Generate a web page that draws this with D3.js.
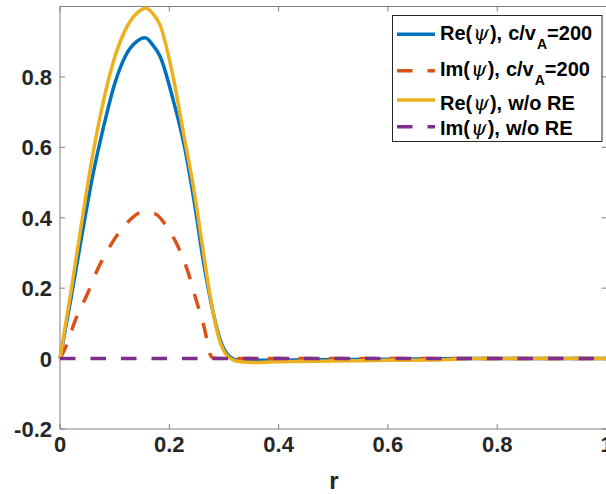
<!DOCTYPE html>
<html>
<head>
<meta charset="utf-8">
<script src="https://cdn.jsdelivr.net/npm/d3@7"></script>
<style>
  body { margin: 0; background: #fff; }
  svg { display: block; }
</style>
</head>
<body>
<div id="chart"></div>
<script>
// values
const reRelR = [0, 0.02, 0.04, 0.06, 0.08, 0.10, 0.12, 0.14, 0.156, 0.17, 0.183, 0.207, 0.229, 0.247, 0.262, 0.278, 0.293, 0.311, 0.326, 0.36, 0.45, 0.6, 0.75, 1];
const reRelV = [0, 0.17, 0.35, 0.52, 0.66, 0.78, 0.86, 0.90, 0.911, 0.89, 0.859, 0.735, 0.593, 0.432, 0.28, 0.147, 0.053, 0.005, -0.004, -0.005, -0.003, -0.002, 0, 0];

const imRelR = [0, 0.012, 0.027, 0.049, 0.07, 0.095, 0.125, 0.149, 0.174, 0.195, 0.216, 0.235, 0.25, 0.265, 0.274, 0.28, 0.3, 0.4, 0.6, 0.8, 1];
const imRelV = [0, 0.038, 0.105, 0.18, 0.257, 0.328, 0.389, 0.415, 0.411, 0.375, 0.318, 0.242, 0.162, 0.081, 0.015, 0.002, 0, 0, 0, 0, 0];

const reNoR = [0, 0.02, 0.04, 0.06, 0.08, 0.10, 0.12, 0.14, 0.157, 0.17, 0.183, 0.207, 0.226, 0.244, 0.259, 0.274, 0.29, 0.308, 0.33, 0.36, 0.40, 0.5, 0.6, 0.7, 0.75, 1];
const reNoV = [0, 0.19, 0.39, 0.58, 0.735, 0.855, 0.935, 0.98, 0.995, 0.98, 0.948, 0.80, 0.64, 0.489, 0.337, 0.185, 0.062, 0.005, -0.009, -0.011, -0.009, -0.007, -0.005, -0.003, 0, 0];

const imNoR = [0, 1];
const imNoV = [0, 0];

const seriesNames = ["Re", "Im", "Re", "Im"];
const seriesTails = ["c/v", "c/v", "w/o RE", "w/o RE"];
const seriesColors = ["#0072BD", "#D95319", "#EDB120", "#7E2F8E"];

const xTicks = [0, 0.2, 0.4, 0.6, 0.8, 1];
const yTicks = [-0.2, 0, 0.2, 0.4, 0.6, 0.8];

const W = 606, H = 494;
const plotL = 60, plotR = 606.5, plotT = 6.5, plotB = 429;

const svg = d3.select("#chart").append("svg")
    .attr("width", W)
    .attr("height", H);

const x = d3.scaleLinear().domain([0, 1]).range([plotL, plotR]);
const y = d3.scaleLinear().domain([-0.2, 1.0]).range([plotB, plotT]);

const font = "'Liberation Sans', Arial, sans-serif";
const axisCol = "#808080";

// axes box
svg.append("rect")
    .attr("x", plotL).attr("y", plotT)
    .attr("width", plotR - plotL).attr("height", plotB - plotT)
    .attr("fill", "none").attr("stroke", axisCol).attr("stroke-width", 1);

// ticks (inward, both sides)
xTicks.forEach(t => {
    svg.append("line").attr("x1", x(t)).attr("x2", x(t)).attr("y1", plotB).attr("y2", plotB - 5)
        .attr("stroke", axisCol);
    svg.append("line").attr("x1", x(t)).attr("x2", x(t)).attr("y1", plotT).attr("y2", plotT + 5)
        .attr("stroke", axisCol);
    svg.append("text")
        .attr("x", x(t)).attr("y", plotB + 23)
        .attr("text-anchor", "middle")
        .style("font-family", font).style("font-weight", "bold").style("font-size", "22px")
        .attr("fill", "#262626")
        .text(d3.format("~g")(t));
});
yTicks.forEach(t => {
    svg.append("line").attr("x1", plotL).attr("x2", plotL + 5).attr("y1", y(t)).attr("y2", y(t))
        .attr("stroke", axisCol);
    svg.append("line").attr("x1", plotR).attr("x2", plotR - 5).attr("y1", y(t)).attr("y2", y(t))
        .attr("stroke", axisCol);
    svg.append("text")
        .attr("x", 52).attr("y", y(t) + 8)
        .attr("text-anchor", "end")
        .style("font-family", font).style("font-weight", "bold").style("font-size", "22px")
        .attr("fill", "#262626")
        .text(d3.format("~g")(t).replace("−", "-"));
});

// x label
svg.append("text")
    .attr("x", 334).attr("y", 489)
    .attr("text-anchor", "middle")
    .style("font-family", font).style("font-weight", "bold").style("font-size", "24px")
    .attr("fill", "#262626")
    .text("r");

// curves
const line = d3.line()
    .x(d => x(d[0]))
    .y(d => y(d[1]))
    .curve(d3.curveMonotoneX);

const series = [
    {r: reRelR, v: reRelV, dash: null},
    {r: imRelR, v: imRelV, dash: "15.5,15"},
    {r: reNoR, v: reNoV, dash: null},
    {r: imNoR, v: imNoV, dash: "15.5,15"}
];

series.forEach((s, i) => {
    const pts = s.r.map((r, j) => [r, s.v[j]]);
    svg.append("path")
        .datum(pts)
        .attr("d", line)
        .attr("fill", "none")
        .attr("stroke", seriesColors[i])
        .attr("stroke-width", 3.5)
        .attr("stroke-dasharray", s.dash);
});

// legend
const lg = svg.append("g");
lg.append("rect")
    .attr("x", 392.5).attr("y", 15.5)
    .attr("width", 209.5).attr("height", 126)
    .attr("fill", "#fff").attr("stroke", "#262626").attr("stroke-width", 1);

const rowLine = [34.3, 70.7, 100, 126.7];
const rowBase = [39.5, 76, 110, 135];

seriesNames.forEach((nm, i) => {
    lg.append("line")
        .attr("x1", 397).attr("x2", 435)
        .attr("y1", rowLine[i]).attr("y2", rowLine[i])
        .attr("stroke", seriesColors[i])
        .attr("stroke-width", 3.5)
        .attr("stroke-dasharray", series[i].dash);
    const t = lg.append("text")
        .attr("x", 440).attr("y", rowBase[i])
        .style("font-family", font).style("font-weight", "bold").style("font-size", "20px")
        .attr("fill", "#000");
    t.append("tspan").text(nm + "(");
    t.append("tspan")
        .attr("dx", 1)
        .style("font-family", "'DejaVu Serif', 'Liberation Serif', serif")
        .style("font-style", "italic").style("font-weight", "normal")
        .text("ψ");
    t.append("tspan").attr("dx", 1).text("),");
    t.append("tspan").attr("dx", 6).text(seriesTails[i]);
    if (i < 2) {
        t.append("tspan").attr("dy", 9).attr("dx", 1).style("font-size", "14px").text("A");
        t.append("tspan").attr("dy", -9).text("=200");
    }
});
</script>
</body>
</html>
